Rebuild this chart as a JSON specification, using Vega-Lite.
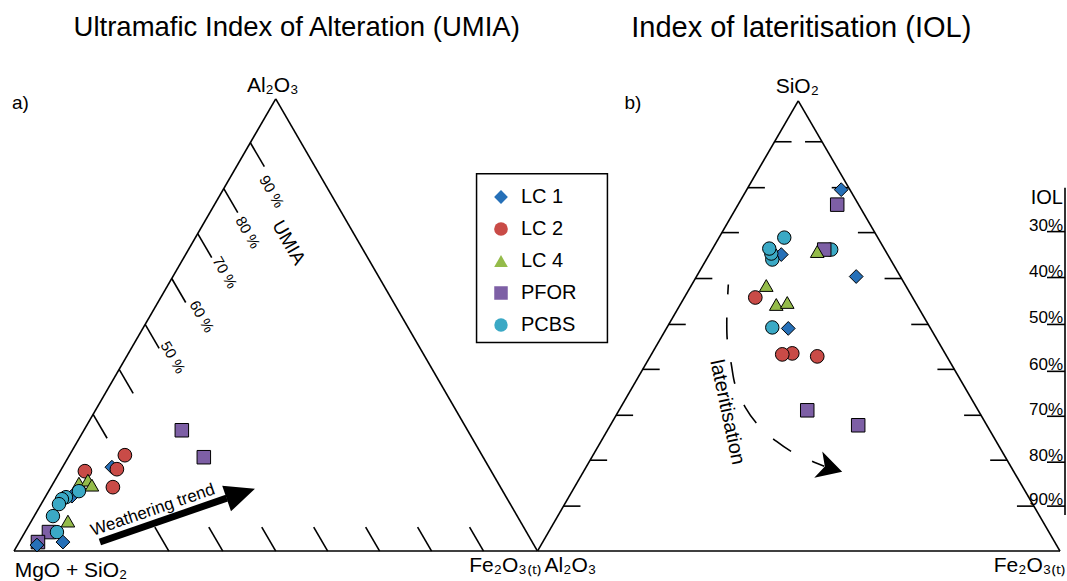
{
  "$schema": "https://vega.github.io/schema/vega-lite/v6.json",
  "width": 1067,
  "height": 581,
  "autosize": {"type": "fit", "contains": "padding"},
  "padding": 0,
  "background": "white",
  "config": {"view": {"stroke": null}, "font": "Liberation Sans"},
  "datasets": {
    "box": [{"x": 477, "y": 174, "x2": 608, "y2": 343}],
    "rules": [
      {"x": 14, "y": 552, "x2": 538, "y2": 552},
      {"x": 14, "y": 552, "x2": 276, "y2": 99},
      {"x": 276, "y": 99, "x2": 538, "y2": 552},
      {"x": 538, "y": 552, "x2": 1061, "y2": 552},
      {"x": 538, "y": 552, "x2": 799, "y2": 101},
      {"x": 799, "y": 101, "x2": 1061, "y2": 552},
      {"x": 250.6, "y": 143, "x2": 264.6, "y2": 167},
      {"x": 224.0, "y": 189, "x2": 238.0, "y2": 213},
      {"x": 197.9, "y": 234, "x2": 211.9, "y2": 258},
      {"x": 171.9, "y": 279, "x2": 185.9, "y2": 303},
      {"x": 145.3, "y": 325, "x2": 159.3, "y2": 349},
      {"x": 119.3, "y": 370, "x2": 133.3, "y2": 394},
      {"x": 93.2, "y": 415, "x2": 107.2, "y2": 439},
      {"x": 169, "y": 552, "x2": 155, "y2": 528},
      {"x": 223, "y": 552, "x2": 209, "y2": 528},
      {"x": 276, "y": 552, "x2": 262, "y2": 528},
      {"x": 328, "y": 552, "x2": 314, "y2": 528},
      {"x": 380, "y": 552, "x2": 366, "y2": 528},
      {"x": 432, "y": 552, "x2": 418, "y2": 528},
      {"x": 484, "y": 552, "x2": 470, "y2": 528},
      {"x": 775.3, "y": 142, "x2": 792.3, "y2": 142},
      {"x": 748.6, "y": 188, "x2": 765.6, "y2": 188},
      {"x": 722.6, "y": 233, "x2": 739.6, "y2": 233},
      {"x": 696.0, "y": 279, "x2": 713.0, "y2": 279},
      {"x": 669.4, "y": 325, "x2": 686.4, "y2": 325},
      {"x": 643.3, "y": 370, "x2": 660.3, "y2": 370},
      {"x": 616.7, "y": 416, "x2": 633.7, "y2": 416},
      {"x": 590.7, "y": 461, "x2": 607.7, "y2": 461},
      {"x": 564.0, "y": 507, "x2": 581.0, "y2": 507},
      {"x": 822.8, "y": 142, "x2": 805.8, "y2": 142},
      {"x": 849.5, "y": 188, "x2": 832.5, "y2": 188},
      {"x": 875.7, "y": 233, "x2": 858.7, "y2": 233},
      {"x": 902.4, "y": 279, "x2": 885.4, "y2": 279},
      {"x": 929.1, "y": 325, "x2": 912.1, "y2": 325},
      {"x": 955.3, "y": 370, "x2": 938.3, "y2": 370},
      {"x": 982.0, "y": 416, "x2": 965.0, "y2": 416},
      {"x": 1008.1, "y": 461, "x2": 991.1, "y2": 461},
      {"x": 1034.9, "y": 507, "x2": 1017.9, "y2": 507},
      {"x": 1066, "y": 188, "x2": 1066, "y2": 516},
      {"x": 1048, "y": 232, "x2": 1066, "y2": 232},
      {"x": 1048, "y": 278, "x2": 1066, "y2": 278},
      {"x": 1048, "y": 325, "x2": 1066, "y2": 325},
      {"x": 1048, "y": 372, "x2": 1066, "y2": 372},
      {"x": 1048, "y": 417, "x2": 1066, "y2": 417},
      {"x": 1048, "y": 463, "x2": 1066, "y2": 463},
      {"x": 1048, "y": 507, "x2": 1066, "y2": 507}
    ],
    "shaft": [{"x": 100, "y": 543, "x2": 227, "y2": 499}],
    "headW": [{"x": 241, "y": 494.5}],
    "headL": [{"x": 831, "y": 469}],
    "curve": [
      {"o": 1, "x": 729, "y": 285},
      {"o": 2, "x": 727.5, "y": 319},
      {"o": 3, "x": 728, "y": 341},
      {"o": 4, "x": 732, "y": 365},
      {"o": 5, "x": 736, "y": 386},
      {"o": 6, "x": 746, "y": 408},
      {"o": 7, "x": 759, "y": 426},
      {"o": 8, "x": 777, "y": 442},
      {"o": 9, "x": 795, "y": 454},
      {"o": 10, "x": 815, "y": 463},
      {"o": 11, "x": 825, "y": 467}
    ],
    "points": [
      {"s": "PFOR", "x": 182, "y": 431},
      {"s": "PFOR", "x": 204, "y": 458},
      {"s": "LC 1", "x": 112, "y": 468},
      {"s": "LC 2", "x": 125, "y": 456},
      {"s": "LC 2", "x": 85, "y": 472},
      {"s": "LC 2", "x": 117, "y": 470},
      {"s": "LC 2", "x": 113, "y": 488},
      {"s": "LC 4", "x": 79, "y": 484},
      {"s": "LC 4", "x": 88, "y": 481},
      {"s": "LC 4", "x": 92, "y": 486},
      {"s": "LC 4", "x": 68, "y": 522},
      {"s": "PFOR", "x": 49, "y": 533},
      {"s": "PFOR", "x": 38, "y": 543},
      {"s": "LC 1", "x": 72, "y": 497},
      {"s": "PCBS", "x": 79, "y": 492},
      {"s": "PCBS", "x": 66, "y": 498},
      {"s": "PCBS", "x": 62, "y": 500},
      {"s": "PCBS", "x": 59, "y": 505},
      {"s": "PCBS", "x": 53, "y": 517},
      {"s": "PCBS", "x": 57, "y": 533},
      {"s": "LC 1", "x": 63, "y": 543},
      {"s": "LC 1", "x": 37, "y": 546},
      {"s": "LC 1", "x": 842, "y": 190},
      {"s": "PFOR", "x": 838, "y": 205},
      {"s": "LC 1", "x": 782, "y": 255},
      {"s": "PCBS", "x": 785, "y": 238},
      {"s": "PCBS", "x": 773, "y": 260},
      {"s": "PCBS", "x": 772, "y": 254},
      {"s": "PCBS", "x": 770, "y": 249},
      {"s": "PCBS", "x": 832, "y": 250},
      {"s": "PFOR", "x": 825, "y": 250},
      {"s": "LC 4", "x": 818, "y": 252},
      {"s": "LC 1", "x": 857, "y": 277},
      {"s": "LC 4", "x": 767, "y": 286},
      {"s": "LC 2", "x": 756, "y": 298},
      {"s": "LC 4", "x": 777, "y": 305},
      {"s": "LC 4", "x": 788, "y": 303},
      {"s": "PCBS", "x": 773, "y": 328},
      {"s": "LC 1", "x": 789, "y": 329},
      {"s": "LC 2", "x": 793, "y": 354},
      {"s": "LC 2", "x": 783, "y": 355},
      {"s": "LC 2", "x": 818, "y": 357},
      {"s": "PFOR", "x": 808, "y": 411},
      {"s": "PFOR", "x": 859, "y": 426}
    ],
    "titleA": [{"x": 297, "y": 28, "t": "Ultramafic Index of Alteration (UMIA)"}],
    "titleB": [{"x": 802, "y": 28, "t": "Index of lateritisation (IOL)"}],
    "panels": [
      {"x": 12, "y": 103, "t": "a)"},
      {"x": 625, "y": 103, "t": "b)"}
    ],
    "vertices": [
      {"x": 273, "y": 92, "t": "Al₂O₃"},
      {"x": 798, "y": 93, "t": "SiO₂"},
      {"x": 71, "y": 578, "t": "MgO + SiO₂"},
      {"x": 506, "y": 573, "t": "Fe₂O₃₍ₜ₎"},
      {"x": 571, "y": 573, "t": "Al₂O₃"},
      {"x": 1031, "y": 573, "t": "Fe₂O₃₍ₜ₎"}
    ],
    "umiaTicks": [
      {"x": 272, "y": 192, "t": "90 %"},
      {"x": 248, "y": 233, "t": "80 %"},
      {"x": 225, "y": 273, "t": "70 %"},
      {"x": 202, "y": 317, "t": "60 %"},
      {"x": 173, "y": 358, "t": "50 %"}
    ],
    "umia": [{"x": 289, "y": 243, "t": "UMIA"}],
    "weather": [{"x": 153, "y": 511, "t": "Weathering trend"}],
    "later": [{"x": 728, "y": 413, "t": "lateritisation"}],
    "iolHead": [{"x": 1064, "y": 198, "t": "IOL"}],
    "iolTicks": [
      {"x": 1064, "y": 231, "t": "30%"},
      {"x": 1064, "y": 277, "t": "40%"},
      {"x": 1064, "y": 324, "t": "50%"},
      {"x": 1064, "y": 371, "t": "60%"},
      {"x": 1064, "y": 416, "t": "70%"},
      {"x": 1064, "y": 462, "t": "80%"},
      {"x": 1064, "y": 506, "t": "90%"}
    ]
  },
  "encoding": {
    "x": {"field": "x", "type": "quantitative", "scale": {"domain": [0, 1067], "nice": false, "zero": false}, "axis": null},
    "y": {"field": "y", "type": "quantitative", "scale": {"domain": [0, 581], "nice": false, "zero": false, "reverse": true}, "axis": null}
  },
  "layer": [
    {
      "data": {"name": "box"},
      "mark": {"type": "rect", "fill": "white", "stroke": "black", "strokeWidth": 1.5},
      "encoding": {"x2": {"field": "x2"}, "y2": {"field": "y2"}}
    },
    {
      "data": {"name": "rules"},
      "mark": {"type": "rule", "color": "black", "strokeWidth": 1.6},
      "encoding": {"x2": {"field": "x2"}, "y2": {"field": "y2"}}
    },
    {
      "data": {"name": "shaft"},
      "mark": {"type": "rule", "color": "black", "strokeWidth": 7},
      "encoding": {"x2": {"field": "x2"}, "y2": {"field": "y2"}}
    },
    {
      "data": {"name": "headW"},
      "mark": {"type": "point", "shape": "M1,0L-1,-0.9L-1,0.9Z", "size": 900, "angle": 341, "filled": true, "color": "black", "opacity": 1}
    },
    {
      "data": {"name": "curve"},
      "mark": {"type": "line", "color": "black", "strokeWidth": 1.6, "strokeDash": [22, 23], "strokeDashOffset": 12, "interpolate": "catmull-rom"},
      "encoding": {"order": {"field": "o", "type": "quantitative"}}
    },
    {
      "data": {"name": "headL"},
      "mark": {"type": "point", "shape": "M1,0L-1,-1.1L-0.45,0L-1,1.1Z", "size": 625, "angle": 17, "filled": true, "color": "black", "opacity": 1}
    },
    {
      "data": {"name": "points"},
      "mark": {"type": "point", "filled": true, "stroke": "black", "strokeWidth": 1, "opacity": 1},
      "encoding": {
        "color": {
          "field": "s", "type": "nominal",
          "scale": {"domain": ["LC 1", "LC 2", "LC 4", "PFOR", "PCBS"], "range": ["#2670b8", "#c94b47", "#94bb4a", "#7d5fa5", "#3ba9c5"]},
          "legend": {"title": null, "orient": "none", "legendX": 491, "legendY": 187, "padding": 0, "labelFontSize": 20, "labelFont": "Liberation Sans", "labelColor": "black", "symbolSize": 170, "symbolStrokeColor": "black", "symbolStrokeWidth": 1, "symbolOpacity": 1, "rowPadding": 12, "labelOffset": 10}
        },
        "shape": {
          "field": "s", "type": "nominal",
          "scale": {"domain": ["LC 1", "LC 2", "LC 4", "PFOR", "PCBS"], "range": ["diamond", "circle", "triangle-up", "square", "circle"]},
          "legend": {"title": null, "orient": "none", "legendX": 491, "legendY": 187, "padding": 0, "labelFontSize": 20, "labelFont": "Liberation Sans", "labelColor": "black", "symbolSize": 170, "symbolStrokeColor": "black", "symbolStrokeWidth": 1, "symbolOpacity": 1, "rowPadding": 12, "labelOffset": 10}
        },
        "size": {
          "field": "s", "type": "ordinal",
          "scale": {"domain": ["LC 1", "LC 2", "LC 4", "PFOR", "PCBS"], "range": [190, 180, 210, 155, 190]},
          "legend": null
        }
      }
    },
    {
      "data": {"name": "titleA"},
      "mark": {"type": "text", "fontSize": 27.5, "align": "center", "baseline": "middle", "color": "black"},
      "encoding": {"text": {"field": "t"}}
    },
    {
      "data": {"name": "titleB"},
      "mark": {"type": "text", "fontSize": 29, "align": "center", "baseline": "middle", "color": "black"},
      "encoding": {"text": {"field": "t"}}
    },
    {
      "data": {"name": "panels"},
      "mark": {"type": "text", "fontSize": 19, "align": "left", "baseline": "middle", "color": "black"},
      "encoding": {"text": {"field": "t"}}
    },
    {
      "data": {"name": "vertices"},
      "mark": {"type": "text", "fontSize": 21, "align": "center", "baseline": "alphabetic", "color": "black"},
      "encoding": {"text": {"field": "t"}}
    },
    {
      "data": {"name": "umiaTicks"},
      "mark": {"type": "text", "fontSize": 15, "align": "center", "baseline": "middle", "angle": 60, "color": "black"},
      "encoding": {"text": {"field": "t"}}
    },
    {
      "data": {"name": "umia"},
      "mark": {"type": "text", "fontSize": 19, "align": "center", "baseline": "middle", "angle": 60, "color": "black"},
      "encoding": {"text": {"field": "t"}}
    },
    {
      "data": {"name": "weather"},
      "mark": {"type": "text", "fontSize": 17, "align": "center", "baseline": "middle", "angle": 341, "color": "black"},
      "encoding": {"text": {"field": "t"}}
    },
    {
      "data": {"name": "later"},
      "mark": {"type": "text", "fontSize": 20, "align": "center", "baseline": "middle", "angle": 78, "color": "black"},
      "encoding": {"text": {"field": "t"}}
    },
    {
      "data": {"name": "iolHead"},
      "mark": {"type": "text", "fontSize": 20, "align": "right", "baseline": "middle", "color": "black"},
      "encoding": {"text": {"field": "t"}}
    },
    {
      "data": {"name": "iolTicks"},
      "mark": {"type": "text", "fontSize": 17, "align": "right", "baseline": "alphabetic", "color": "black"},
      "encoding": {"text": {"field": "t"}}
    }
  ]
}
